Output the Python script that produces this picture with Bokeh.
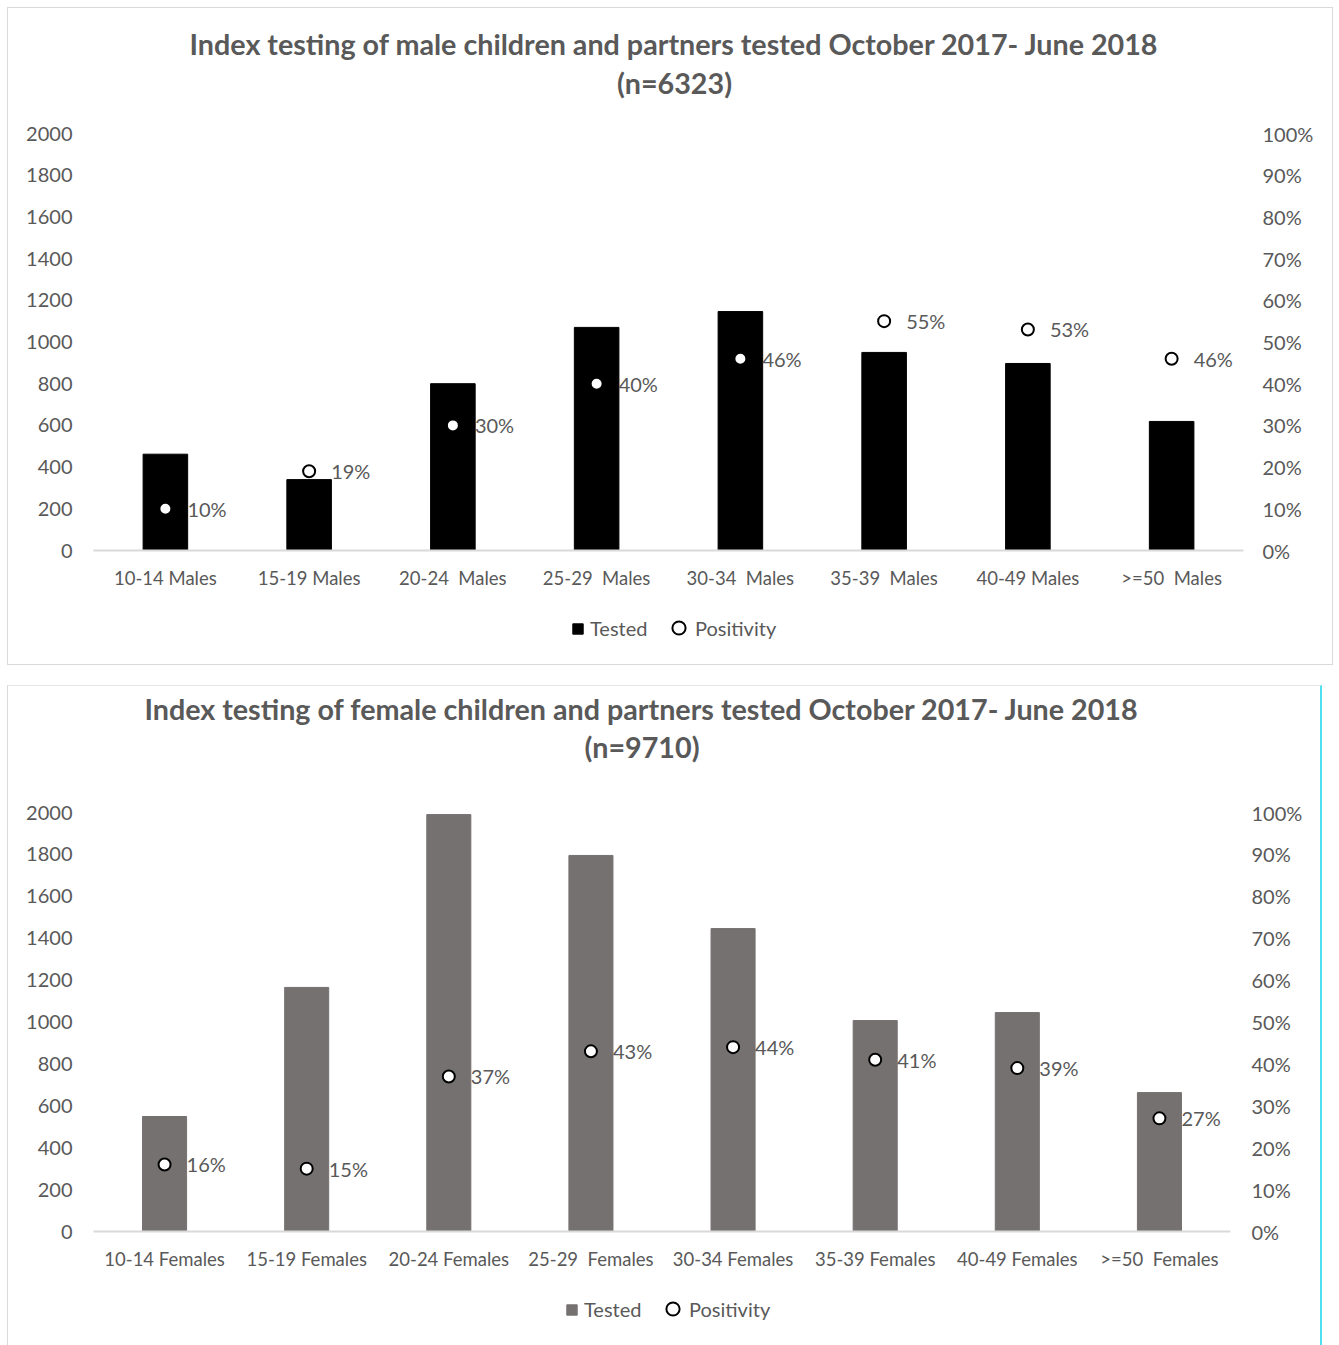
from bokeh.plotting import figure
from bokeh.models import (Range1d, LinearAxis, FixedTicker, NumeralTickFormatter,
                          Label, Legend, LegendItem, ColumnDataSource)
from bokeh.layouts import column
from bokeh.embed import file_html
from bokeh.resources import INLINE
from bokeh.core.properties import value

# ---------------- data ----------------
male_cats = ["10-14 Males", "15-19 Males", "20-24\u00a0 Males", "25-29\u00a0 Males",
             "30-34\u00a0 Males", "35-39\u00a0 Males", "40-49 Males", ">=50\u00a0 Males"]
male_tested = [462, 340, 800, 1070, 1146, 950, 897, 619]
male_pos = [10, 19, 30, 40, 46, 55, 53, 46]

female_cats = ["10-14 Females", "15-19 Females", "20-24 Females", "25-29\u00a0 Females",
               "30-34 Females", "35-39 Females", "40-49 Females", ">=50\u00a0 Females"]
female_tested = [549, 1165, 1990, 1795, 1446, 1007, 1045, 663]
female_pos = [16, 15, 37, 43, 44, 41, 39, 27]

left_ticks = list(range(0, 2001, 200))
right_ticks = [i / 10 for i in range(0, 11)]

male_title = ["Index testing of male children and partners tested October 2017- June 2018", "(n=6323)"]
female_title = ["Index testing of female children and partners tested October 2017- June 2018", "(n=9710)"]
legend_labels = ["Tested", "Positivity"]

FONT = "Lato"
GREY = "#595959"


def blank_fig(width, height):
    f = figure(width=width, height=height, x_range=Range1d(0, 1), y_range=Range1d(0, height),
               x_axis_type=None, y_axis_type=None, output_backend="svg",
               toolbar_location=None, min_border=0)
    f.outline_line_color = None
    return f


def make_title(titles, width, height, ys, xoff):
    tf = blank_fig(width, height)
    for t, yv in zip(titles, ys):
        tf.add_layout(Label(x=0.5, y=yv, x_offset=xoff, text=t, text_align="center",
                            text_baseline="middle", text_font=FONT,
                            text_font_size="28.7px", text_font_style="bold",
                            text_color=GREY))
    return tf


def make_chart(cats, tested, pos, bar_color, width, height, borders, standoffs):
    bl, br, bt, bb = borders
    p = figure(x_range=cats, y_range=Range1d(0, 2000), width=width, height=height,
               output_backend="svg", toolbar_location=None,
               min_border_left=bl, min_border_right=br,
               min_border_top=bt, min_border_bottom=bb)
    p.outline_line_color = None
    p.xgrid.grid_line_color = None
    p.ygrid.grid_line_color = None
    p.extra_y_ranges = {"pct": Range1d(0, 1)}

    src = ColumnDataSource(dict(cat=cats, tested=tested,
                                pct=[v / 100 for v in pos],
                                lab=[f"{v}%" for v in pos]))
    p.vbar(x="cat", top="tested", width=0.31, source=src,
           fill_color=bar_color, line_color=bar_color)
    p.scatter(x="cat", y="pct", y_range_name="pct", source=src, size=12,
              marker="circle", fill_color="white", line_color="black", line_width=2)
    p.text(x="cat", y="pct", text="lab", y_range_name="pct", source=src,
           x_offset=22, text_baseline="middle", text_align="left",
           text_font=value(FONT), text_font_size="20px", text_color=GREY)

    yl = p.yaxis[0]
    yl.ticker = FixedTicker(ticks=left_ticks)
    yr = LinearAxis(y_range_name="pct", ticker=FixedTicker(ticks=right_ticks),
                    formatter=NumeralTickFormatter(format="0%"))
    p.add_layout(yr, "right")
    for ax, so in ((yl, standoffs[0]), (yr, standoffs[1])):
        ax.axis_line_color = None
        ax.major_tick_line_color = None
        ax.minor_tick_line_color = None
        ax.major_label_standoff = so
        ax.major_label_text_font = FONT
        ax.major_label_text_font_size = "20px"
        ax.major_label_text_color = GREY
    xa = p.xaxis[0]
    xa.axis_line_color = "#d9d9d9"
    xa.axis_line_width = 2
    xa.major_tick_line_color = None
    xa.minor_tick_line_color = None
    xa.major_label_standoff = 10
    xa.major_label_text_font = FONT
    xa.major_label_text_font_size = "18.5px"
    xa.major_label_text_color = GREY
    return p


def make_legend(bar_color, width, height, loc_a, loc_b):
    lf = blank_fig(width, height)
    # sample glyphs placed outside the visible range, only used for the legend
    off = ColumnDataSource(dict(x=[-5], y=[-50]))
    r_bar = lf.vbar(x="x", top="y", width=0.1, source=off,
                    fill_color=bar_color, line_color=bar_color)
    r_pt = lf.scatter(x="x", y="y", source=off, marker="circle", size=13,
                      fill_color="white", line_color="black", line_width=2)
    common = dict(orientation="horizontal", border_line_color=None,
                  background_fill_alpha=0, label_text_font=FONT,
                  label_text_font_size="20px", label_text_color=GREY,
                  margin=0, padding=0)
    la = Legend(items=[LegendItem(label=legend_labels[0], renderers=[r_bar])],
                location=loc_a, glyph_width=13, glyph_height=13, label_standoff=6, **common)
    lb = Legend(items=[LegendItem(label=legend_labels[1], renderers=[r_pt])],
                location=loc_b, glyph_width=33, glyph_height=33, label_standoff=0, **common)
    lf.add_layout(la)
    lf.add_layout(lb)
    return lf


t1 = make_title(male_title, 1324, 110, (75, 36), 6)
p1 = make_chart(male_cats, male_tested, male_pos, "black", 1324, 482,
                (85, 89, 15, 50), (15, 13))
l1 = make_legend("black", 1324, 64, (478, 24), (569, 20))
top = column(t1, p1, l1, spacing=0, margin=(7, 0, 0, 7),
             styles={"border": "1px solid #d9d9d9"})

t2 = make_title(female_title, 1312, 111, (89, 51), -20)
p2 = make_chart(female_cats, female_tested, female_pos, "#767171", 1312, 484,
                (85, 90, 15, 50), (15, 15))
l2 = make_legend("#767171", 1312, 64, (472, 24), (563, 20))
bottom = column(t2, p2, l2, spacing=0, margin=(20, 0, 0, 7),
                styles={"border-left": "1px solid #d9d9d9", "border-top": "1px solid #e6e6e6",
                        "border-right": "2px solid #4fe0f0"})

layout = column(top, bottom, spacing=0)
open("out.html", "w").write(file_html(layout, INLINE))
